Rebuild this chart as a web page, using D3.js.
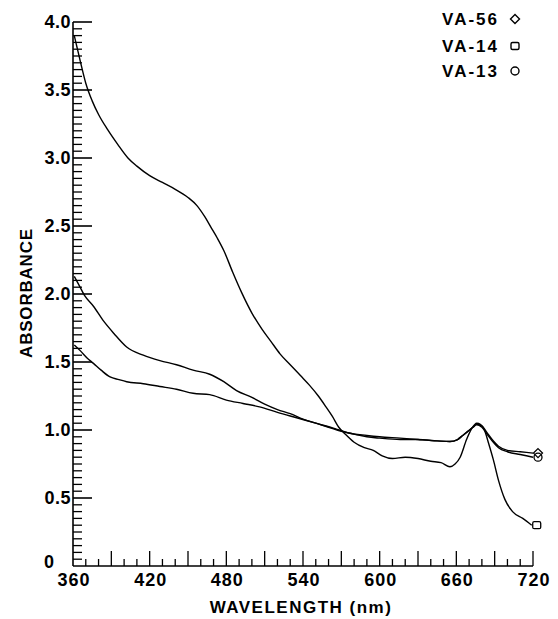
<!DOCTYPE html>
<html><head><meta charset="utf-8">
<script src="https://cdn.jsdelivr.net/npm/d3@7"></script>
<style>body{margin:0;background:#fff}svg{display:block}text{font-family:"Liberation Sans",Arial,sans-serif;font-weight:bold;fill:#000}</style>
</head><body><svg id="c" width="558" height="619"></svg>
<script>
// Series: wavelength (nm) and absorbance
const va14_nm  = [361,363,366,370,375,380,387,395,403,410,420,430,440,450,457,463,468,473,478,485,492,500,508,515,522,530,538,545,552,558,563,568,573,580,588,595,602,610,620,630,640,648,655,659,663,668,672,676,679,682,685,689,693,698,704,712,719];
const va14_abs = [3.90,3.82,3.70,3.55,3.42,3.32,3.21,3.10,3.00,2.94,2.87,2.82,2.77,2.71,2.65,2.57,2.49,2.41,2.32,2.16,2.01,1.86,1.74,1.65,1.56,1.48,1.40,1.33,1.25,1.17,1.10,1.02,0.97,0.91,0.87,0.85,0.81,0.79,0.80,0.79,0.77,0.76,0.73,0.75,0.80,0.93,1.01,1.05,1.04,1.00,0.91,0.78,0.63,0.49,0.40,0.35,0.30];
const va56_nm  = [361,365,369,376,384,392,402,415,428,441,454,467,478,488,500,510,520,530,540,550,560,570,580,590,600,616,630,645,655,661,665,669,673,676,680,684,688,693,700,710,720];
const va56_abs = [2.13,2.06,1.99,1.91,1.80,1.71,1.61,1.55,1.51,1.48,1.44,1.41,1.355,1.29,1.24,1.19,1.15,1.12,1.08,1.05,1.02,0.99,0.97,0.95,0.94,0.93,0.93,0.92,0.915,0.93,0.96,0.99,1.02,1.04,1.03,0.98,0.93,0.88,0.85,0.84,0.83];
const va13_nm  = [361,366,371,376,382,389,396,402,415,428,441,454,467,480,493,506,520,535,550,565,575,590,600,616,630,645,655,661,665,669,673,676,680,684,688,693,700,710,720];
const va13_abs = [1.625,1.58,1.53,1.49,1.44,1.39,1.37,1.355,1.34,1.32,1.30,1.27,1.26,1.22,1.195,1.17,1.13,1.09,1.05,1.01,0.98,0.96,0.95,0.94,0.93,0.92,0.915,0.93,0.96,0.99,1.02,1.04,1.02,0.97,0.92,0.87,0.84,0.82,0.80];
const seriesNames = ["VA-56","VA-14","VA-13"];
const seriesSymbols = ["diamond","square","circle"];
const xTickLabels = [360,420,480,540,600,660,720];
const yTickLabels = [0,0.5,1.0,1.5,2.0,2.5,3.0,3.5,4.0];
const xTitle = "WAVELENGTH (nm)";
const yTitle = "ABSORBANCE";

const svg = d3.select("#c");
const x = d3.scaleLinear().domain([360,720]).range([73,533]);
const y = d3.scaleLinear().domain([0,4]).range([566,22]);

const g = svg.append("g");
// axes lines
g.append("line").attr("x1",x(360)).attr("x2",x(360)).attr("y1",y(0)).attr("y2",y(4)).attr("stroke","#000").attr("stroke-width",1.6);
g.append("line").attr("x1",x(360)).attr("x2",x(720)).attr("y1",y(0)).attr("y2",y(0)).attr("stroke","#000").attr("stroke-width",1.6);

// y ticks (inward, right)
const yMinor = d3.range(0.05,4.0001,0.05).filter(v=>Math.abs(v/0.5-Math.round(v/0.5))>1e-6);
g.selectAll(".ym").data(yMinor).join("line").attr("x1",x(360)).attr("x2",x(360)+9)
  .attr("y1",d=>y(d)).attr("y2",d=>y(d)).attr("stroke","#000").attr("stroke-width",1.3);
g.selectAll(".yM").data(yTickLabels.filter(d=>d>0)).join("line").attr("x1",x(360)).attr("x2",x(360)+19)
  .attr("y1",d=>y(d)).attr("y2",d=>y(d)).attr("stroke","#000").attr("stroke-width",1.6);
g.selectAll(".yl").data(yTickLabels).join("text").attr("x",d=>d===0?54:71).attr("y",d=>y(d)+(d===0?2:6))
  .attr("text-anchor","end").attr("font-size",18).attr("letter-spacing",d=>d===0?0:0.5)
  .text(d=>d===0?"0":d.toFixed(1));

// x ticks (inward, up)
const xTicksAll = d3.range(370,721,10);
g.selectAll(".xt").data(xTicksAll).join("line").attr("x1",d=>x(d)).attr("x2",d=>x(d))
  .attr("y1",y(0)).attr("y2",d=>y(0)-((d-360)%30===0?15:7)).attr("stroke","#000").attr("stroke-width",1.3);
g.selectAll(".xl").data(xTickLabels).join("text").attr("x",d=>x(d)+1).attr("y",586)
  .attr("text-anchor","middle").attr("font-size",18).attr("letter-spacing",1).text(d=>d);

// titles
svg.append("text").attr("x",301).attr("y",613).attr("text-anchor","middle").attr("font-size",17)
  .attr("letter-spacing",1.5).text(xTitle);
svg.append("text").attr("transform","translate(32,293) rotate(-90)").attr("text-anchor","middle")
  .attr("font-size",17).attr("letter-spacing",0.8).text(yTitle);

// curves
const series = [
  {name:seriesNames[0], sym:seriesSymbols[0], nm:va56_nm, a:va56_abs},
  {name:seriesNames[1], sym:seriesSymbols[1], nm:va14_nm, a:va14_abs},
  {name:seriesNames[2], sym:seriesSymbols[2], nm:va13_nm, a:va13_abs}
];
const line = d3.line().x(d=>x(d[0])).y(d=>y(d[1])).curve(d3.curveMonotoneX);
series.forEach(s=>{
  const pts = s.nm.map((n,i)=>[n,s.a[i]]);
  g.append("path").attr("d",line(pts)).attr("fill","none").attr("stroke","#000").attr("stroke-width",1.4);
});

function drawSym(sel, sym, cx, cy, r){
  if(sym==="diamond") sel.append("path").attr("d",`M${cx},${cy-r}L${cx+r},${cy}L${cx},${cy+r}L${cx-r},${cy}Z`);
  else if(sym==="square") sel.append("rect").attr("x",cx-r+0.5).attr("y",cy-r+1).attr("width",2*r-1).attr("height",2*r-2).attr("rx",1.5);
  else sel.append("circle").attr("cx",cx).attr("cy",cy).attr("r",r-0.5);
}
// end markers
const mk = g.append("g").attr("fill","none").attr("stroke","#000").attr("stroke-width",1.3);
series.forEach(s=>{
  const n = s.nm.length-1;
  drawSym(mk, s.sym, x(s.nm[n])+5, y(s.a[n]), 4.5);
});

// legend
const lg = svg.append("g");
series.forEach((s,i)=>{
  const yy = [25,52,77][i];
  lg.append("text").attr("x",499).attr("y",yy).attr("text-anchor","end").attr("font-size",17)
    .attr("letter-spacing",2).text(s.name);
  const sg = lg.append("g").attr("fill","none").attr("stroke","#000").attr("stroke-width",1.4);
  drawSym(sg, s.sym, 515, yy-6, 4.5);
});
</script></body></html>
